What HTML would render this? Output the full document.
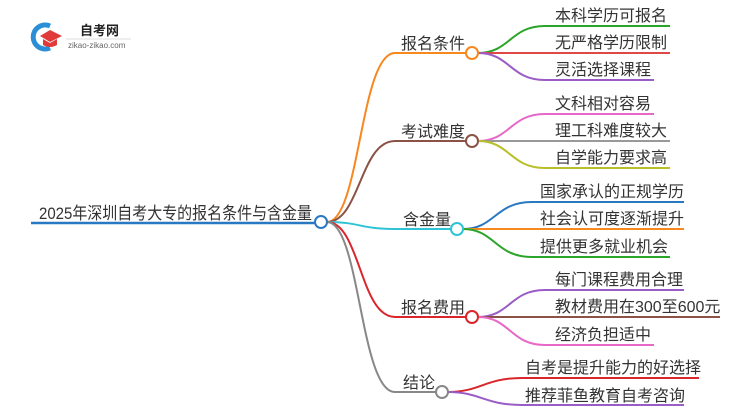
<!DOCTYPE html>
<html><head><meta charset="utf-8"><style>
body{margin:0;background:#fff;width:750px;height:410px;overflow:hidden}
svg text{font-family:"Liberation Sans","Noto Sans CJK SC",sans-serif;fill:#333}
</style></head><body>
<svg width="750" height="410" viewBox="0 0 750 410" xmlns="http://www.w3.org/2000/svg" fill="none" stroke-width="2">
<!-- logo -->
<path d="M50 26 A12 12 0 1 0 50 48" stroke="#2a8fd6" stroke-width="5"/>
<path d="M40 36 L50 30 L62 36 L50 42 Z" fill="#e03a3a" stroke="none"/>
<path d="M43 39 L43 45 Q50 49 57 45 L57 39 L50 43 Z" fill="#e03a3a" stroke="none"/>
<text x="80" y="35" font-size="13" font-weight="bold" style="fill:#222">自考网</text>
<line x1="66" y1="39" x2="131" y2="39" stroke="#ddd" stroke-width="1"/>
<text x="68" y="48" font-size="8" style="fill:#666">zikao-zikao.com</text>
<!-- root -->
<line x1="31" y1="223" x2="315" y2="223" stroke="#2a78c2" stroke-width="2.5"/>
<text x="39" y="219" font-size="17" textLength="273" lengthAdjust="spacingAndGlyphs">2025年深圳自考大专的报名条件与含金量</text>
<!-- main branches -->
<path d="M327 222 C360 222 360 53 395 53 L466 53" stroke="#f7871f"/>
<path d="M327 222 C360 222 360 141 395 141 L466 141" stroke="#8b5345"/>
<path d="M327 222 C360 222 360 229 395 229 L451 229" stroke="#2ec4d6"/>
<path d="M327 222 C360 222 360 317 395 317 L466 317" stroke="#d9262c"/>
<path d="M327 222 C360 222 360 392 395 392 L436 392" stroke="#888"/>
<circle cx="321" cy="222" r="6" fill="#fff" stroke="#2a78c2" stroke-width="2"/>
<text x="401" y="49" font-size="16">报名条件</text>
<text x="401" y="137" font-size="16">考试难度</text>
<text x="403" y="225" font-size="16">含金量</text>
<text x="401" y="313" font-size="16">报名费用</text>
<text x="403" y="388" font-size="16">结论</text>
<!-- children 1 -->
<path d="M478 53 C510 53 510 26 545 26 L670 26" stroke="#2aa52a"/>
<path d="M478 53 L670 53" stroke="#e04848"/>
<path d="M478 53 C510 53 510 80 545 80 L654 80" stroke="#9a5cc6"/>
<text x="555" y="21" font-size="16">本科学历可报名</text>
<text x="555" y="48" font-size="16">无严格学历限制</text>
<text x="555" y="75" font-size="16">灵活选择课程</text>
<circle cx="472" cy="53" r="6" fill="#fff" stroke="#f7871f"/>
<!-- children 2 -->
<path d="M478 141 C510 141 510 114 545 114 L654 114" stroke="#e868c8"/>
<path d="M478 141 L670 141" stroke="#999"/>
<path d="M478 141 C510 141 510 168 545 168 L670 168" stroke="#b8bf28"/>
<text x="555" y="109" font-size="16">文科相对容易</text>
<text x="555" y="136" font-size="16">理工科难度较大</text>
<text x="555" y="163" font-size="16">自学能力要求高</text>
<circle cx="472" cy="141" r="6" fill="#fff" stroke="#8b5345"/>
<!-- children 3 -->
<path d="M463 229 C495 229 495 202 532 202 L684 202" stroke="#2a78c2"/>
<path d="M463 229 L684 229" stroke="#f7871f"/>
<path d="M463 229 C495 229 495 257 532 257 L670 257" stroke="#2aa52a"/>
<text x="540" y="197" font-size="16">国家承认的正规学历</text>
<text x="540" y="224" font-size="16">社会认可度逐渐提升</text>
<text x="540" y="252" font-size="16">提供更多就业机会</text>
<circle cx="457" cy="229" r="6" fill="#fff" stroke="#2ec4d6"/>
<!-- children 4 -->
<path d="M478 317 C510 317 510 290 545 290 L684 290" stroke="#9a5cc6"/>
<path d="M478 317 L720 317" stroke="#8b5345"/>
<path d="M478 317 C510 317 510 345 545 345 L654 345" stroke="#e868c8"/>
<text x="555" y="285" font-size="16">每门课程费用合理</text>
<text x="555" y="312" font-size="16">教材费用在300至600元</text>
<text x="555" y="340" font-size="16">经济负担适中</text>
<circle cx="472" cy="317" r="6" fill="#fff" stroke="#d9262c"/>
<!-- children 5 -->
<path d="M448 392 C480 392 485 378 522 378 L699 378" stroke="#d9262c"/>
<path d="M448 392 C480 392 485 405 522 405 L684 405" stroke="#9a5cc6"/>
<text x="525" y="373" font-size="16">自考是提升能力的好选择</text>
<text x="525" y="401" font-size="16">推荐菲鱼教育自考咨询</text>
<circle cx="442" cy="392" r="6" fill="#fff" stroke="#888"/>
</svg>
</body></html>
